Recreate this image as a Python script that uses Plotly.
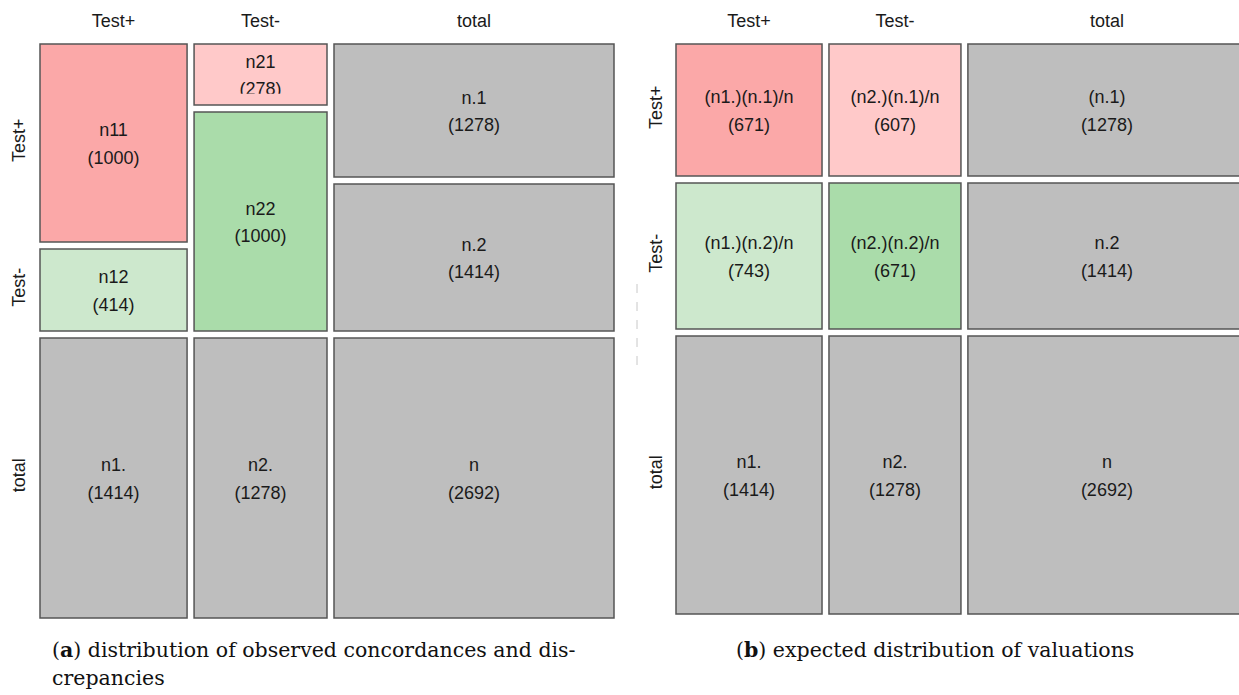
import plotly.graph_objects as go

W, H = 1239, 695

# ---------------- data ----------------
col_labels = ["Test+", "Test-", "total"]
row_labels = ["Test+", "Test-", "total"]

# (a) observed concordances / discrepancies, per column (Test+, Test-, total), top to bottom
obs_names = [["n11", "n12"], ["n21", "n22"], ["n.1", "n.2"]]
obs_values = [[1000, 414], [278, 1000], [1278, 1414]]
obs_total_names = ["n1.", "n2.", "n"]
obs_total_values = [1414, 1278, 2692]

# (b) expected distribution, rows (Test+, Test-, total) x columns (Test+, Test-, total)
exp_names = [["(n1.)(n.1)/n", "(n2.)(n.1)/n", "(n.1)"],
             ["(n1.)(n.2)/n", "(n2.)(n.2)/n", "n.2"],
             ["n1.", "n2.", "n"]]
exp_values = [[671, 607, 1278],
              [743, 671, 1414],
              [1414, 1278, 2692]]
n_total = 2692

caption_a1 = "(<b>a</b>) distribution of observed concordances and dis-"
caption_a2 = "crepancies"
caption_b = "(<b>b</b>) expected distribution of valuations"

# ---------------- style ----------------
RED, PINK, GREEN, LGREEN, GRAY = "#FBA8A8", "#FFC9C9", "#AADCAA", "#CDE8CD", "#BEBEBE"
obs_colors = [[RED, LGREEN], [PINK, GREEN], [GRAY, GRAY]]
exp_colors = [[RED, PINK, GRAY], [LGREEN, GREEN, GRAY], [GRAY, GRAY, GRAY]]
EDGE = "#555555"
GAP = 0.025
SANS = "Liberation Sans"
FS = 18
LABEL_DY = 0.009  # small downward nudge of the two-line cell labels

fig = go.Figure()
shapes = []


def rect(xr, yr, x0, x1, y0, y1, color):
    shapes.append(dict(type="rect", xref=xr, yref=yr, x0=x0, x1=x1, y0=y0, y1=y1,
                       fillcolor=color, line=dict(color=EDGE, width=1.5), layer="below"))


# ---------- panel (a): mosaic ----------
a_cx, a_cy, a_names, a_vals = [], [], [], []
a_row_ticks = []
x = 0.0
for j in range(3):
    w = obs_total_values[j] / n_total
    colsum = sum(obs_values[j])
    y = 0.0
    for i in range(2):
        h = obs_values[j][i] / colsum
        rect("x", "y", x, x + w, y, y + h, obs_colors[j][i])
        a_cx.append(x + w / 2); a_cy.append(y + h / 2)
        a_names.append(obs_names[j][i]); a_vals.append(f"({obs_values[j][i]})")
        if j == 0:
            a_row_ticks.append(y + h / 2)
        if obs_names[j][i] == "n21":
            clip_cell = (x, x + w, y + h)
        y += h + GAP
    yb = 1 + 2 * GAP
    rect("x", "y", x, x + w, yb, yb + 1, GRAY)
    a_cx.append(x + w / 2); a_cy.append(yb + 0.5)
    a_names.append(obs_total_names[j]); a_vals.append(f"({obs_total_values[j]})")
    if j == 0:
        a_row_ticks.append(yb + 0.5)
    x += w + GAP
a_col_ticks = []
x = 0.0
for j in range(3):
    w = obs_total_values[j] / n_total
    a_col_ticks.append(x + w / 2)
    x += w + GAP

# clip of the n21 label (text cut inside its small cell)
cx0, cx1, cyb = clip_cell
shapes.append(dict(type="rect", xref="x", yref="y", x0=cx0 + 0.006, x1=cx1 - 0.006,
                   y0=cyb - 0.040, y1=cyb - 0.006, fillcolor=PINK,
                   line=dict(width=0), layer="above"))

# ---------- panel (b): expected grid ----------
b_cx, b_cy, b_names, b_vals = [], [], [], []
col_w = [exp_values[2][j] / n_total for j in range(3)]
row_h = [exp_values[i][2] / n_total for i in range(3)]
b_col_ticks, b_row_ticks = [], []
y = 0.0
for i in range(3):
    x = 0.0
    for j in range(3):
        rect("x2", "y2", x, x + col_w[j], y, y + row_h[i], exp_colors[i][j])
        b_cx.append(x + col_w[j] / 2); b_cy.append(y + row_h[i] / 2)
        b_names.append(exp_names[i][j]); b_vals.append(f"({exp_values[i][j]})")
        if i == 0:
            b_col_ticks.append(x + col_w[j] / 2)
        x += col_w[j] + GAP
    b_row_ticks.append(y + row_h[i] / 2)
    y += row_h[i] + GAP

# ---------- labels in cells ----------
for xa, ya, cx, cy, nm, vl in [("x", "y", a_cx, a_cy, a_names, a_vals),
                                ("x2", "y2", b_cx, b_cy, b_names, b_vals)]:
    cy2 = [v + LABEL_DY for v in cy]
    fig.add_trace(go.Scatter(x=cx, y=cy2, text=nm, mode="markers+text", textposition="top center",
                             marker=dict(size=6, opacity=0), xaxis=xa, yaxis=ya,
                             textfont=dict(family=SANS, size=FS, color="#1a1a1a"),
                             hoverinfo="skip", showlegend=False))
    fig.add_trace(go.Scatter(x=cx, y=cy2, text=vl, mode="markers+text", textposition="bottom center",
                             marker=dict(size=6, opacity=0), xaxis=xa, yaxis=ya,
                             textfont=dict(family=SANS, size=FS, color="#1a1a1a"),
                             hoverinfo="skip", showlegend=False))

# faint dashed separator between the two panels
shapes.append(dict(type="line", xref="paper", yref="paper", x0=637 / W, x1=637 / W,
                   y0=1 - 284 / H, y1=1 - 372 / H, line=dict(color="#C8C8C8", width=1, dash="dash")))

fig.update_layout(shapes=shapes)


def px_dom_x(p0, p1):
    return [p0 / W, p1 / W]


def px_dom_y(top, bottom):
    return [1 - bottom / H, 1 - top / H]


# panel a: data 0 at px 40 (x) / 44 (y), 280 px per unit
SA = 280.0
ax_x0, ax_x1, ax_y0, ax_y1 = 32, 624, 34, 628
# panel b: data 0 at px 676 (x) / 44 (y), 278 px per unit
SB = 278.0
bx_x0, bx_x1, bx_y0, bx_y1 = 669, 1239, 34, 624

axis_common = dict(showgrid=False, zeroline=False, showline=False, ticks="",
                   tickfont=dict(family=SANS, size=FS, color="#1a1a1a"), fixedrange=True)

fig.update_layout(
    width=W, height=H, margin=dict(l=0, r=0, t=0, b=0),
    paper_bgcolor="white", plot_bgcolor="white",
    xaxis=dict(domain=px_dom_x(ax_x0, ax_x1), range=[(ax_x0 - 40) / SA, (ax_x1 - 40) / SA],
               side="top", tickvals=a_col_ticks, ticktext=col_labels, anchor="y",
               ticklabelstandoff=2, **axis_common),
    yaxis=dict(domain=px_dom_y(ax_y0, ax_y1), range=[(ax_y1 - 44) / SA, (ax_y0 - 44) / SA],
               tickvals=a_row_ticks, ticktext=row_labels, tickangle=-90, anchor="x",
               ticklabelstandoff=2, **axis_common),
    xaxis2=dict(domain=px_dom_x(bx_x0, bx_x1), range=[(bx_x0 - 676) / SB, (bx_x1 - 676) / SB],
                side="top", tickvals=b_col_ticks, ticktext=col_labels, anchor="y2",
                ticklabelstandoff=2, **axis_common),
    yaxis2=dict(domain=px_dom_y(bx_y0, bx_y1), range=[(bx_y1 - 44) / SB, (bx_y0 - 44) / SB],
                tickvals=b_row_ticks, ticktext=row_labels, tickangle=-90, anchor="x2",
                ticklabelstandoff=2, **axis_common),
)

cap_font = dict(family="DejaVu Serif", size=20.5, color="#111111")
fig.add_annotation(x=50 / W, y=1 - 650 / H, xref="paper", yref="paper", text=caption_a1,
                   showarrow=False, xanchor="left", yanchor="middle", font=cap_font)
fig.add_annotation(x=50 / W, y=1 - 678 / H, xref="paper", yref="paper", text=caption_a2,
                   showarrow=False, xanchor="left", yanchor="middle", font=cap_font)
fig.add_annotation(x=935 / W, y=1 - 650 / H, xref="paper", yref="paper", text=caption_b,
                   showarrow=False, xanchor="center", yanchor="middle", font=cap_font)

fig.write_html("out.html", config={"displayModeBar": False},
               post_script="document.body.style.margin='0px';document.body.style.overflow='hidden';")
